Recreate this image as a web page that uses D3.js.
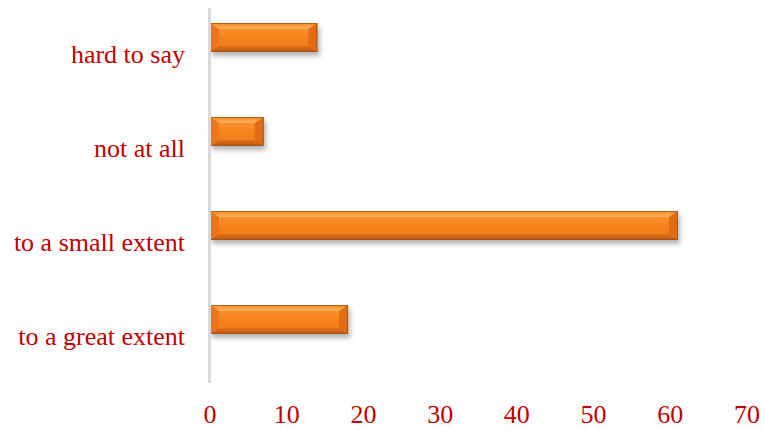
<!DOCTYPE html>
<html>
<head>
<meta charset="utf-8">
<script src="https://cdn.jsdelivr.net/npm/d3@7/dist/d3.min.js"></script>
<style>
  html, body { margin: 0; padding: 0; background: #ffffff; }
  svg { display: block; }
  text { font-family: "Liberation Serif", "Times New Roman", serif; fill: #c00000; }
</style>
</head>
<body>
<svg id="chart" width="765" height="430"></svg>
<script>
// Survey answers, listed bottom to top as drawn
const categories = ["to a great extent", "to a small extent", "not at all", "hard to say"];
const values = [18, 61, 7, 14];
const xTicks = [0, 10, 20, 30, 40, 50, 60, 70];

const svg = d3.select("#chart");

const x = d3.scaleLinear().domain([0, 70]).range([210, 747]);
const y = d3.scaleBand().domain(categories.slice().reverse()).range([8, 384]);

const defs = svg.append("defs");

// soft shadow under each bar
const f = defs.append("filter").attr("id", "shadow")
  .attr("x", "-10%").attr("y", "-30%").attr("width", "130%").attr("height", "180%");
f.append("feGaussianBlur").attr("in", "SourceAlpha").attr("stdDeviation", 2.5).attr("result", "b");
f.append("feOffset").attr("in", "b").attr("dx", 2).attr("dy", 4).attr("result", "o");
f.append("feComponentTransfer").attr("in", "o").attr("result", "s")
  .append("feFuncA").attr("type", "linear").attr("slope", 0.3);
const m = f.append("feMerge");
m.append("feMergeNode").attr("in", "s");
m.append("feMergeNode").attr("in", "SourceGraphic");

// face gradient
const g1 = defs.append("linearGradient").attr("id", "face").attr("x1", 0).attr("y1", 0).attr("x2", 0).attr("y2", 1);
g1.append("stop").attr("offset", "0%").attr("stop-color", "#fb9736");
g1.append("stop").attr("offset", "50%").attr("stop-color", "#f5841e");
g1.append("stop").attr("offset", "100%").attr("stop-color", "#ee7717");

const gTop = defs.append("linearGradient").attr("id", "topface").attr("x1", 0).attr("y1", 0).attr("x2", 0).attr("y2", 1);
gTop.append("stop").attr("offset", "0%").attr("stop-color", "#f48a2a");
gTop.append("stop").attr("offset", "100%").attr("stop-color", "#fdb35a");

const gBot = defs.append("linearGradient").attr("id", "botface").attr("x1", 0).attr("y1", 0).attr("x2", 0).attr("y2", 1);
gBot.append("stop").attr("offset", "0%").attr("stop-color", "#e26f15");
gBot.append("stop").attr("offset", "100%").attr("stop-color", "#b85910");

const barH = 29;
const bx = 9, byv = 6;   // bevel width (horizontal) and height (vertical)
const data = categories.map((c, i) => ({ c, v: values[i] }));

const bars = svg.append("g").selectAll("g").data(data).join("g")
  .attr("filter", "url(#shadow)");

bars.each(function (d) {
  const g = d3.select(this);
  const x0 = x(0), x1 = x(d.v);
  const y0 = y(d.c) + y.bandwidth() / 2 - 32, y1 = y0 + barH;
  const b = Math.min(bx, (x1 - x0) / 3);
  g.append("rect").attr("x", x0).attr("y", y0).attr("width", x1 - x0).attr("height", barH)
    .attr("fill", "url(#face)");
  // bevelled edges
  g.append("polygon").attr("points", [[x0, y0], [x1, y0], [x1 - b, y0 + byv], [x0 + b, y0 + byv]].join(" "))
    .attr("fill", "url(#topface)");
  g.append("polygon").attr("points", [[x0, y1], [x1, y1], [x1 - b, y1 - byv], [x0 + b, y1 - byv]].join(" "))
    .attr("fill", "url(#botface)");
  g.append("polygon").attr("points", [[x0, y0], [x0 + b, y0 + byv], [x0 + b, y1 - byv], [x0, y1]].join(" "))
    .attr("fill", "#ec761a");
  g.append("polygon").attr("points", [[x1, y0], [x1 - b, y0 + byv], [x1 - b, y1 - byv], [x1, y1]].join(" "))
    .attr("fill", "#e06c14");
  g.append("rect").attr("x", x0 + 0.5).attr("y", y0 + 0.5).attr("width", x1 - x0 - 1).attr("height", barH - 1)
    .attr("fill", "none").attr("stroke", "#99501a").attr("stroke-opacity", 0.7).attr("stroke-width", 1);
});

// vertical category axis line
svg.append("line")
  .attr("x1", 209.5).attr("x2", 209.5).attr("y1", 8).attr("y2", 383)
  .attr("stroke", "#d9d9d9").attr("stroke-width", 3);

// category labels
svg.append("g").selectAll("text").data(categories).join("text")
  .attr("x", 185)
  .attr("y", d => y(d) + y.bandwidth() / 2 + 8)
  .attr("text-anchor", "end")
  .attr("font-size", 26)
  .text(d => d);

// value axis labels
svg.append("g").selectAll("text").data(xTicks).join("text")
  .attr("x", d => x(d))
  .attr("y", 423)
  .attr("text-anchor", "middle")
  .attr("font-size", 26)
  .text(d => d);
</script>
</body>
</html>
